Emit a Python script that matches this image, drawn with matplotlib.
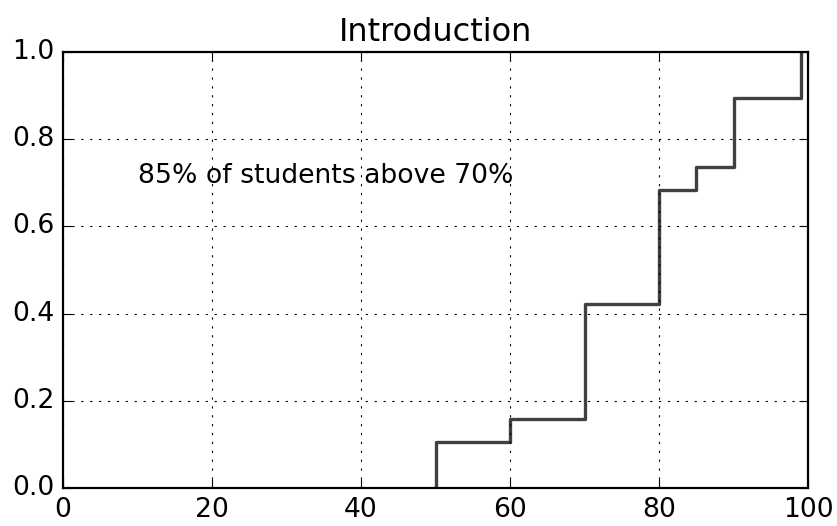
import numpy as np
import matplotlib
matplotlib.use("Agg")
from matplotlib import pyplot as plt

plt.style.use("classic")

# exam scores (19 students)
scores = [50, 50, 60, 70, 70, 70, 70, 70, 80, 80, 80, 80, 80, 85, 90, 90, 90, 99, 99]
title = "Introduction"
note = "85% of students above 70%"

vals, counts = np.unique(scores, return_counts=True)
cdf = np.cumsum(counts) / len(scores)
x = np.concatenate([[vals[0]], vals])
y = np.concatenate([[0], cdf])

fig = plt.figure(figsize=(837 / 160, 526 / 160), dpi=160)
ax = fig.add_axes([0.0753, 0.0722, 0.8901, 0.8289])
ax.step(x, y, where="post", color="0.25", lw=1.5)
ax.set_xlim(0, 100)
ax.set_ylim(0, 1)
ax.grid(True)
ax.set_title(title)
ax.text(10, 0.7, note)

fig.savefig("out.png", dpi=160)
